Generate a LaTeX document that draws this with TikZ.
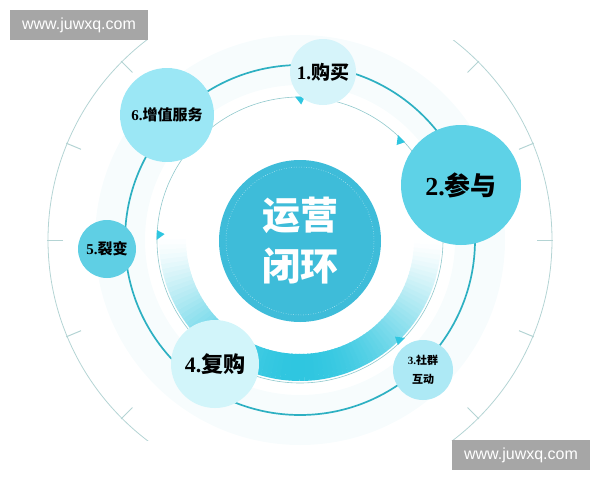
\documentclass[tikz,border=0pt]{standalone}
\usepackage{fontspec}
\setmainfont{Liberation Serif}
\newfontfamily\cjk{Noto Sans CJK SC}
\newfontfamily\webfont{Liberation Sans}
\definecolor{hubblue}{HTML}{3EBCD9}
\definecolor{ringteal}{HTML}{2DB0C2}
\definecolor{innerline}{HTML}{90C8CC}
\definecolor{outerline}{HTML}{B4D4D4}
\definecolor{bandcyan}{HTML}{2FC6E0}
\definecolor{hazecyan}{HTML}{F7FCFD}
\definecolor{paleA}{HTML}{D6F4FA}
\definecolor{midA}{HTML}{5ED2E7}
\definecolor{lightA}{HTML}{ADE9F5}
\definecolor{paleB}{HTML}{D2F5FA}
\definecolor{midB}{HTML}{5FCFE4}
\definecolor{lightB}{HTML}{9BE7F5}
\definecolor{stampgray}{HTML}{A6A6A6}
\begin{document}
\begin{tikzpicture}[x=1pt,y=-1pt]
        \tikzstyle{phase}=[circle,inner sep=0pt,text=black,align=center]
        \tikzstyle{tick}=[draw=outerline,line width=1pt]
        \tikzstyle{stamp}=[rectangle,fill=stampgray,text=white,minimum width=138pt,minimum height=30pt,font=\webfont\fontsize{16}{16}\selectfont]
        \useasboundingbox (0,0) rectangle (600,480);
        \begin{scope}[shift={(300,240)}]
            \draw[draw=hazecyan,line width=50pt] (0,0) circle[radius=180];
            \begin{scope}
                \clip (-300,-200) rectangle (300,200);
                \draw[draw=outerline,line width=0.8pt] (0,0) circle[radius=252];
            \end{scope}
            \foreach \a in {-45,-22.5,0,22.5,45,135,157.5,180,202.5,225}
                \draw[tick] (\a:237) -- (\a:253);
            % fading band under the ring
            \foreach \a in {0,2,...,178} {
                \pgfmathsetmacro\s{max(sin(\a),0.01)}
                \pgfmathsetmacro\p{100*\s^1.3}
                \draw[draw=bandcyan!\p!white,line width=27pt] (\a:127.5) arc[start angle=\a,end angle=\a+2.3,radius=127.5];
            }
            \draw[draw=innerline,line width=0.6pt] (0,0) circle[radius=143];
            \draw[draw=ringteal,line width=1.7pt] (0,0) circle[radius=175];
            \foreach \a in {45,182,270,315}
                \fill[fill=bandcyan] (\a-2:143.5) -- (\a+2:143.5) -- (\a+0.5:135.5) -- cycle;
        \end{scope}
        \node [phase,fill=paleA,minimum size=66pt,font=\bfseries\fontsize{19}{19}\selectfont] (p1) at (323,72) {1.{\cjk 购买}};
        \node [phase,fill=midA,minimum size=120pt,font=\bfseries\fontsize{26}{26}\selectfont] (p2) at (461,185) {2.{\cjk 参与}};
        \node [phase,fill=lightA,minimum size=60pt,font=\bfseries\fontsize{11}{19}\selectfont] (p3) at (423,370) {3.{\cjk 社群}\\{\cjk 互动}};
        \node [phase,fill=paleB,minimum size=88pt,font=\bfseries\fontsize{22}{22}\selectfont] (p4) at (215,364) {4.{\cjk 复购}};
        \node [phase,fill=midB,minimum size=58pt,font=\bfseries\fontsize{15}{15}\selectfont] (p5) at (107,249) {5.{\cjk 裂变}};
        \node [phase,fill=lightB,minimum size=94pt,font=\bfseries\fontsize{15}{15}\selectfont] (p6) at (167,115) {6.{\cjk 增值服务}};
        \node [phase,fill=hubblue,text=white,minimum size=162pt,font=\cjk\bfseries\fontsize{38}{51}\selectfont] (hub) at (300,241) {运营\\闭环};
        \draw[draw=white,dotted,line width=0.5pt,opacity=0.8] (hub.center) circle[radius=74];
        \node [stamp] (wm1) at (79,25) {www.juwxq.com};
        \node [stamp] (wm2) at (521,455) {www.juwxq.com};
\end{tikzpicture}
\end{document}
